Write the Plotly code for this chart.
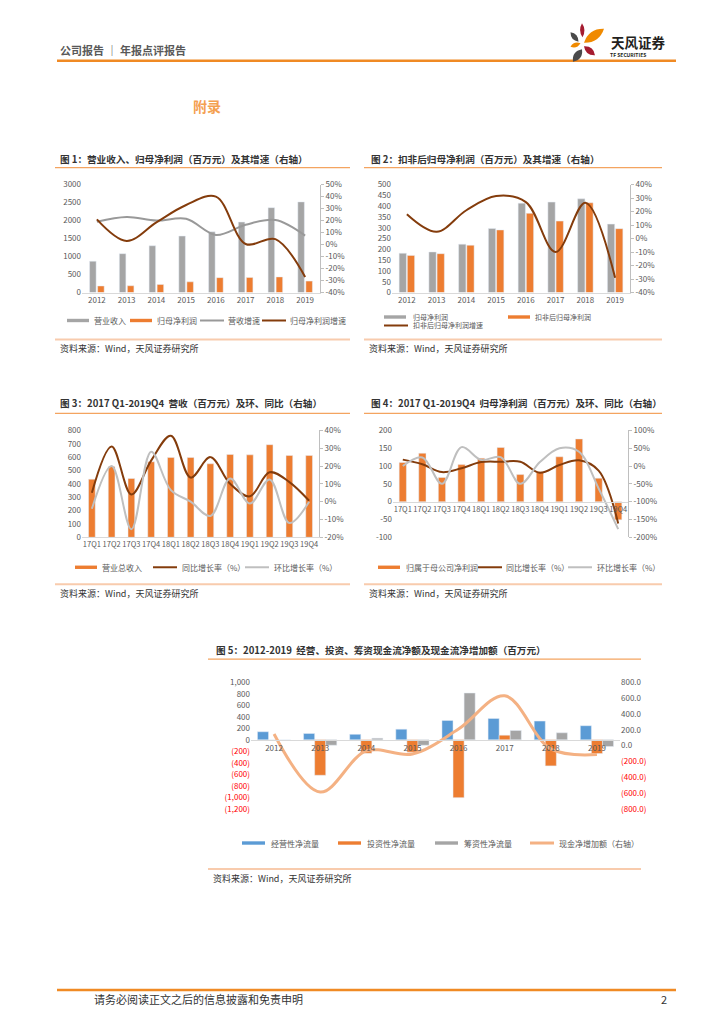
import plotly.graph_objects as go

W, H = 724, 1024
OFF = 8  # default page body margin
FW, FH = W - 2 * OFF, H - 2 * OFF
def px(x): return (x - OFF) / FW
def py(y):
    yd = (y - 6.3) / 0.99  # calibration of page placement
    return 1 - (yd - OFF) / FH

FONT = "Noto Sans CJK SC, Noto Sans, sans-serif"

# ---------------- data ----------------
years = ['2012', '2013', '2014', '2015', '2016', '2017', '2018', '2019']
quarters = ['17Q1', '17Q2', '17Q3', '17Q4', '18Q1', '18Q2', '18Q3', '18Q4',
            '19Q1', '19Q2', '19Q3', '19Q4']

# Fig 1
revenue = [870, 1080, 1300, 1570, 1690, 1960, 2360, 2520]
net_profit = [182, 188, 224, 297, 414, 419, 434, 317]
rev_growth = [19, 23, 20, 21.5, 8, 16.5, 20.5, 7.5]
np_growth = [21, 3, 18.5, 33, 40, 0.5, 4.5, -27]

# Fig 2
np_deducted = [172, 180, 219, 290, 367, 331, 416, 296]
npd_growth = [18, 5, 21, 31.5, 27, -10, 26.5, -29]

# Fig 3
q_rev = [435, 530, 440, 565, 597, 597, 550, 620, 617, 693, 612, 612]
q_rev_yoy = [5, 31, 4, 23, 37, 13.5, 25, 10, 3, 16.5, 11, 0.5]
q_rev_qoq = [-4, 20, -15.5, 28, 6.5, 0, -8, 13, -1, 12.5, -12, 0]

# Fig 4
q_np = [110, 136, 68, 104, 122, 152, 76, 84, 126, 176, 66, -51]
q_np_yoy = [18, 5, -17, -6, 11, 12, 12, -19, 3, 16, -13, -161]
q_np_qoq = [0, 24, -50, 53, 17, 25, -50, 11, 50, 40, -63, -177]

# Fig 5
cf_oper = [140, 110, 95, 185, 336, 371, 325, 245]
cf_inv = [0, -614, -232, -214, -1003, 81, -452, -238]
cf_fin = [0, -93, 29, -93, 812, 162, 122, -116]
cash_incr = [147, -586, -67, -105, 209, 628, -42, -113]

# ---------------- colours ----------------
ORANGE = '#ED7D31'
GRAY_BAR = '#A5A5A5'
BROWN = '#843C0C'
GRAY_LINE = '#999999'
LGRAY_LINE = '#BFBFBF'
BLUE = '#5B9BD5'
LORANGE = '#F4B183'
TICK = '#595959'

fig = go.Figure()

# Fig 1 traces
fig.add_bar(x=years, y=revenue, xaxis='x', yaxis='y', marker_color=GRAY_BAR,
            width=0.22, offset=-0.245, name='营业收入')
fig.add_bar(x=years, y=net_profit, xaxis='x', yaxis='y', marker_color=ORANGE,
            width=0.22, offset=0.025, name='归母净利润')
fig.add_scatter(x=years, y=rev_growth, xaxis='x', yaxis='y2', mode='lines',
                line=dict(color=GRAY_LINE, width=2, shape='spline'), name='营收增速')
fig.add_scatter(x=years, y=np_growth, xaxis='x', yaxis='y2', mode='lines',
                line=dict(color=BROWN, width=2, shape='spline'), name='归母净利润增速')

# Fig 2 traces
fig.add_bar(x=years, y=net_profit, xaxis='x2', yaxis='y3', marker_color=GRAY_BAR,
            width=0.245, offset=-0.26, name='归母净利润')
fig.add_bar(x=years, y=np_deducted, xaxis='x2', yaxis='y3', marker_color=ORANGE,
            width=0.245, offset=0.015, name='扣非后归母净利润')
fig.add_scatter(x=years, y=npd_growth, xaxis='x2', yaxis='y4', mode='lines',
                line=dict(color=BROWN, width=2, shape='spline'), name='扣非后归母净利润增速')

# Fig 3 traces
fig.add_bar(x=quarters, y=q_rev, xaxis='x3', yaxis='y5', marker_color=ORANGE,
            width=0.34, offset=-0.17, name='营业总收入')
fig.add_scatter(x=quarters, y=q_rev_yoy, xaxis='x3', yaxis='y6', mode='lines',
                line=dict(color=BROWN, width=2, shape='spline'), name='同比增长率（%）')
fig.add_scatter(x=quarters, y=q_rev_qoq, xaxis='x3', yaxis='y6', mode='lines',
                line=dict(color=LGRAY_LINE, width=2, shape='spline'), name='环比增长率（%）')

# Fig 4 traces
fig.add_bar(x=quarters, y=q_np, xaxis='x4', yaxis='y7', marker_color=ORANGE,
            width=0.37, offset=-0.185, name='归属于母公司净利润')
fig.add_scatter(x=quarters, y=q_np_yoy, xaxis='x4', yaxis='y8', mode='lines',
                line=dict(color=BROWN, width=2, shape='spline'), name='同比增长率（%）')
fig.add_scatter(x=quarters, y=q_np_qoq, xaxis='x4', yaxis='y8', mode='lines',
                line=dict(color=LGRAY_LINE, width=2, shape='spline'), name='环比增长率（%）')

# Fig 5 traces
fig.add_bar(x=years, y=cf_oper, xaxis='x5', yaxis='y9', marker_color=BLUE,
            width=0.24, offset=-0.36, name='经营性净流量')
fig.add_bar(x=years, y=cf_inv, xaxis='x5', yaxis='y9', marker_color=ORANGE,
            width=0.24, offset=-0.12, name='投资性净流量')
fig.add_bar(x=years, y=cf_fin, xaxis='x5', yaxis='y9', marker_color=GRAY_BAR,
            width=0.24, offset=0.12, name='筹资性净流量')
fig.add_scatter(x=years, y=cash_incr, xaxis='x5', yaxis='y10', mode='lines',
                line=dict(color=LORANGE, width=3, shape='spline'), name='现金净增加额（右轴）')

fig.update_traces(showlegend=False, hoverinfo='skip')

tf = dict(size=8, color=TICK, family=FONT)
tfq = dict(size=7.5, color=TICK, family=FONT)

def xax(x0, x1, anchor, font=tf, **kw):
    d = dict(domain=[px(x0), px(x1)], anchor=anchor, type='category', showgrid=False,
             showline=True, linecolor='#D9D9D9', linewidth=1, ticks='', tickfont=font,
             tickangle=0, zeroline=False, fixedrange=True)
    d.update(kw)
    return d

def yl(y0, y1, anchor, rng, vals, text=None):
    return dict(domain=[py(y1), py(y0)], anchor=anchor, range=rng, tickvals=vals,
                ticktext=text if text else [str(v) for v in vals], showgrid=False,
                showline=False, zeroline=False, ticks='', tickfont=tf, fixedrange=True)

def yr(over, anchor, rng, vals, text, line=True):
    return dict(overlaying=over, side='right', anchor=anchor, range=rng, tickvals=vals,
                ticktext=text, showgrid=False, zeroline=False, showline=line,
                linecolor='#BFBFBF', ticks='outside' if line else '', ticklen=3,
                tickcolor='#BFBFBF', tickfont=tf, fixedrange=True)

pct = lambda vals: [f'{v}%' for v in vals]

r1 = list(range(-40, 51, 10))
r2 = list(range(-40, 41, 10))
r3 = list(range(-20, 41, 10))
r4 = list(range(-200, 101, 50))

def fmt_left(v):
    if v < 0:
        return f'<span style="color:#FF0000">({abs(v):,})</span>'
    return f'{v:,}'

def fmt_right(v):
    if v < 0:
        return f'<span style="color:#FF0000">({abs(v):,.1f})</span>'
    return f'{v:,.1f}'

l5 = list(range(-1200, 1001, 200))
r5 = list(range(-800, 801, 200))

fig.update_layout(
    width=FW, height=FH, margin=dict(l=0, r=0, t=0, b=0), autosize=False,
    paper_bgcolor='white', plot_bgcolor='white', barmode='overlay',
    font=dict(family=FONT, color='#333333'),
    xaxis=xax(82, 320, 'y'),
    yaxis=yl(185, 293, 'x', [0, 3000], list(range(0, 3001, 500))),
    yaxis2=yr('y', 'x', [-40, 50], r1, pct(r1)),
    xaxis2=xax(392, 630, 'y3'),
    yaxis3=yl(185, 293, 'x2', [0, 500], list(range(0, 501, 50))),
    yaxis4=yr('y3', 'x2', [-40, 40], r2, pct(r2)),
    xaxis3=xax(82, 319, 'y5', font=tfq),
    yaxis5=yl(431, 538, 'x3', [0, 800], list(range(0, 801, 100))),
    yaxis6=yr('y5', 'x3', [-20, 40], r3, pct(r3)),
    xaxis4=xax(393, 628, 'free', font=tfq, position=py(503)),
    yaxis7=yl(431, 538, 'x4', [-100, 200], list(range(-100, 201, 50))),
    yaxis8=yr('y7', 'x4', [-200, 100], r4, pct(r4)),
    xaxis5=xax(251, 620, 'free', position=py(741)),
    yaxis9=yl(683, 810, 'x5', [-1200, 1000], l5, [fmt_left(v) for v in l5]),
    yaxis10=yr('y9', 'x5', [-800, 800], r5, [fmt_right(v) for v in r5], line=False),
)

shapes = []
ann = []

def hline(x0, x1, y, color, w):
    shapes.append(dict(type='line', xref='paper', yref='paper', x0=px(x0), x1=px(x1),
                       y0=py(y), y1=py(y), line=dict(color=color, width=w)))

def text(x, y, s, size, color='#333333', anchor='left', bold=False):
    ann.append(dict(x=px(x), y=py(y), xref='paper', yref='paper', text=f'<b>{s}</b>' if bold else s,
                    showarrow=False, xanchor=anchor, yanchor='middle',
                    font=dict(size=size, color=color, family=FONT)))

def swatch_bar(x, y, color, w=22, h=3.4):
    shapes.append(dict(type='rect', xref='paper', yref='paper', x0=px(x), x1=px(x + w),
                       y0=py(y + h / 2), y1=py(y - h / 2), fillcolor=color, line=dict(width=0)))

def swatch_line(x, y, color, w=24, lw=2):
    shapes.append(dict(type='line', xref='paper', yref='paper', x0=px(x), x1=px(x + w),
                       y0=py(y), y1=py(y), line=dict(color=color, width=lw)))

# header
text(58, 50, '公司报告 ｜ 年报点评报告', 11, '#595959', bold=True)
hline(57, 676, 61, '#F08A24', 2.5)
text(191, 106, '附录', 14, '#F4A050', bold=True)

# logo
def leaf(p1, p2, b, color):
    (x1, y1), (x2, y2) = p1, p2
    mx, my = (x1 + x2) / 2, (y1 + y2) / 2
    dx, dy = x2 - x1, y2 - y1
    L = (dx * dx + dy * dy) ** 0.5
    nx, ny = -dy / L, dx / L
    c1 = (mx + nx * b * 2, my + ny * b * 2)
    c2 = (mx - nx * b * 2, my - ny * b * 2)
    P = lambda p: f'{px(p[0]):.5f},{py(p[1]):.5f}'
    path = f'M {P(p1)} Q {P(c1)} {P(p2)} Q {P(c2)} {P(p1)} Z'
    shapes.append(dict(type='path', xref='paper', yref='paper', path=path,
                       fillcolor=color, line=dict(width=0)))

leaf((570.5, 32.5), (578.5, 42), 2.6, '#4A4A4A')
leaf((582, 23.5), (582.5, 37.5), 2.2, '#A51C30')
leaf((584, 43), (604, 29), 4.5, '#F08A00')
leaf((570.5, 47), (580.5, 43.5), 2.2, '#F08A00')
leaf((584, 46.5), (595, 55.5), 3.2, '#A51C30')
leaf((573, 62), (582, 49.5), 3.6, '#4A4A4A')
text(638, 42, '天风证券', 13.5, '#231F20', anchor='center', bold=True)
text(608, 54.5, 'TF SECURITIES', 5, '#231F20', bold=True)

# chart titles / frames
for (x0, x1, tx, ty, title, ly, by, sy) in [
    (55, 350, 58, 159, '图 1：营业收入、归母净利润（百万元）及其增速（右轴）', 168, 340, 349.5),
    (364, 662, 369, 159, '图 2：扣非后归母净利润（百万元）及其增速（右轴）', 168, 340, 349.5),
    (55, 350, 58, 404, '图 3：2017 Q1-2019Q4  营收（百万元）及环、同比（右轴）', 414, 585, 594),
    (364, 662, 369, 404, '图 4：2017 Q1-2019Q4  归母净利润（百万元）及环、同比（右轴）', 414, 585, 594),
    (208, 641, 214, 651, '图 5：2012-2019  经营、投资、筹资现金流净额及现金流净增加额（百万元）', 660, 870, 880),
]:
    text(tx, ty, title, 9.6, '#333333', bold=True)
    hline(x0, x1, ly, '#F4A460', 1.2)
    hline(x0, x1, by, '#F8CBAD', 2)
    text(x0 + 3, sy, '资料来源：Wind，天风证券研究所', 9, '#333333')

# legends
# fig 1
swatch_bar(67, 321, GRAY_BAR); text(92, 321, '营业收入', 8, TICK)
swatch_bar(130, 321, ORANGE); text(155, 321, '归母净利润', 8, TICK)
swatch_line(200, 321, GRAY_LINE); text(226, 321, '营收增速', 8, TICK)
swatch_line(262, 321, BROWN); text(288, 321, '归母净利润增速', 8, TICK)
# fig 2
swatch_bar(384, 317.5, GRAY_BAR); text(411, 317.5, '归母净利润', 7, TICK)
swatch_bar(508, 317.5, ORANGE); text(533, 317.5, '扣非后归母净利润', 7, TICK)
swatch_line(384, 326, BROWN); text(411, 326, '扣非后归母净利润增速', 7, TICK)
# fig 3
swatch_bar(75, 568, ORANGE); text(100, 568, '营业总收入', 8, TICK)
swatch_line(153, 568, BROWN); text(180, 568, '同比增长率（%）', 8, TICK)
swatch_line(245, 568, LGRAY_LINE); text(272, 568, '环比增长率（%）', 8, TICK)
# fig 4
swatch_bar(378, 568, ORANGE); text(404, 568, '归属于母公司净利润', 8, TICK)
swatch_line(478, 568, BROWN); text(504, 568, '同比增长率（%）', 8, TICK)
swatch_line(568, 568, LGRAY_LINE); text(595, 568, '环比增长率（%）', 8, TICK)
# fig 5
swatch_bar(242, 844, BLUE, w=23); text(269, 844, '经营性净流量', 8, TICK)
swatch_bar(338, 844, ORANGE, w=23); text(365, 844, '投资性净流量', 8, TICK)
swatch_bar(435, 844, GRAY_BAR, w=23); text(462, 844, '筹资性净流量', 8, TICK)
swatch_line(530, 844, LORANGE, w=24, lw=3); text(557, 844, '现金净增加额（右轴）', 8, TICK)

# footer
hline(57, 676, 991, '#F08A24', 2.5)
text(92, 1000, '请务必阅读正文之后的信息披露和免责申明', 11, '#333333')
text(669, 1000, '2', 11, '#333333', anchor='right')

fig.update_layout(shapes=shapes, annotations=ann)
fig.write_html('out.html')
